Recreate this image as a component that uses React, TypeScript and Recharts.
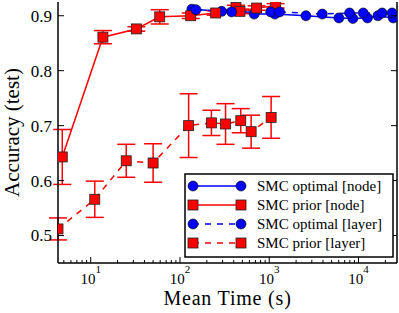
import React from 'react';
import { ComposedChart, Line, XAxis, YAxis, ErrorBar, Label } from 'recharts';

// SMC optimal [node] (solid blue)
const optNodeTime = [136, 293, 679, 1158, 2576, 6030, 8650, 12600, 16500, 24500];
const optNodeAcc = [0.912, 0.908, 0.903, 0.903, 0.900, 0.896, 0.895, 0.896, 0.900, 0.896];

// SMC prior [node] (solid red)
const priorNodeTime = [4.8, 13.7, 32.5, 59.3, 132, 251, 424, 470, 722, 1180];
const priorNodeAcc = [0.643, 0.861, 0.876, 0.898, 0.900, 0.905, 0.915, 0.908, 0.914, 0.918];
const priorNodeErr = [0.05, 0.012, 0.004, 0.013, 0.005, 0.004, 0.004, 0.004, 0.004, 0.004];

// SMC optimal [layer] (dashed blue)
const optLayerTime = [151, 379, 1038, 1306, 3925, 7940, 11300, 18400, 23800];
const optLayerAcc = [0.911, 0.907, 0.907, 0.907, 0.903, 0.905, 0.905, 0.905, 0.905];

// SMC prior [layer] (dashed red)
const priorLayerTime = [4.3, 11.1, 25, 50, 125, 225, 324, 480, 627, 1050];
const priorLayerAcc = [0.512, 0.566, 0.636, 0.632, 0.700, 0.705, 0.703, 0.709, 0.689, 0.715];
const priorLayerErr = [0.02, 0.033, 0.03, 0.035, 0.058, 0.023, 0.037, 0.022, 0.03, 0.038];

const xTicks = [5, 6, 7, 8, 9, 10, 20, 30, 40, 50, 60, 70, 80, 90, 100, 200, 300, 400, 500, 600, 700, 800, 900, 1000, 2000, 3000, 4000, 5000, 6000, 7000, 8000, 9000, 10000, 20000];
const yTicks = [0.5, 0.6, 0.7, 0.8, 0.9];

const legendLabels = ['SMC optimal [node]', 'SMC prior [node]', 'SMC optimal [layer]', 'SMC prior [layer]'];

const build = (t: number[], a: number[], e?: number[]) =>
  t.map((v, i) => ({ t: v, acc: a[i], err: e ? e[i] : 0 }));

const optNode = build(optNodeTime, optNodeAcc);
const priorNode = build(priorNodeTime, priorNodeAcc, priorNodeErr);
const optLayer = build(optLayerTime, optLayerAcc);
const priorLayer = build(priorLayerTime, priorLayerAcc, priorLayerErr);

const FONT = '"Liberation Serif", "Times New Roman", serif';
const BLUE = '#0000ff';
const RED = '#ff0000';

const isMajor = (v: number) => {
  const l = Math.log10(v);
  return Math.abs(l - Math.round(l)) < 1e-9;
};

const XTickBottom = (props: any) => {
  const { x, y, payload } = props;
  const v = payload.value;
  const major = isMajor(v);
  return (
    <g>
      <line x1={x} x2={x} y1={y} y2={y - (major ? 6 : 3)} stroke="#000" strokeWidth={1} />
      {major && (
        <text x={x} y={y + 20.5} textAnchor="middle" fontFamily={FONT} fontSize={15} fill="#000">
          10
          <tspan dy={-10.5} fontSize={11}>{Math.round(Math.log10(v))}</tspan>
        </text>
      )}
    </g>
  );
};

const XTickTop = (props: any) => {
  const { x, y, payload } = props;
  const major = isMajor(payload.value);
  return <line x1={x} x2={x} y1={y} y2={y + (major ? 6 : 3)} stroke="#000" strokeWidth={1} />;
};

const YTickLeft = (props: any) => {
  const { x, y, payload } = props;
  return (
    <g>
      <line x1={x} x2={x + 6} y1={y} y2={y} stroke="#000" strokeWidth={1} />
      <text x={x - 6} y={y} dy="0.35em" textAnchor="end" fontFamily={FONT} fontSize={17} fill="#000">
        {payload.value.toFixed(1)}
      </text>
    </g>
  );
};

const YTickRight = (props: any) => {
  const { x, y } = props;
  return <line x1={x} x2={x - 6} y1={y} y2={y} stroke="#000" strokeWidth={1} />;
};

const CircleDot = (props: any) => {
  const { cx, cy, index } = props;
  if (cx == null || cy == null) return <g key={index} />;
  return <circle key={index} cx={cx} cy={cy} r={5} fill={BLUE} stroke="#000" strokeWidth={0.6} />;
};

const SquareDot = (props: any) => {
  const { cx, cy, index } = props;
  if (cx == null || cy == null) return <g key={index} />;
  return <rect key={index} x={cx - 5} y={cy - 5} width={10} height={10} fill={RED} stroke="#222" strokeWidth={0.8} />;
};

const LegendBox = () => {
  const rows = [186, 205, 224, 243];
  const styles = [
    { color: BLUE, dash: undefined, sq: false },
    { color: RED, dash: undefined, sq: true },
    { color: BLUE, dash: '6 6', sq: false },
    { color: RED, dash: '6 6', sq: true },
  ];
  return (
    <svg width={399} height={313} style={{ position: 'absolute', left: 0, top: 0, pointerEvents: 'none' }}>
      <rect x={185} y={174} width={208} height={83} fill="#fff" stroke="#000" strokeWidth={1.5} />
      {rows.map((ry, i) => {
        const s = styles[i];
        return (
          <g key={i}>
            <line x1={193} x2={241} y1={ry} y2={ry} stroke={s.color} strokeWidth={1.5} strokeDasharray={s.dash} />
            {[193, 241].map((mx) =>
              s.sq ? (
                <rect key={mx} x={mx - 5} y={ry - 5} width={10} height={10} fill={RED} stroke="#222" strokeWidth={0.8} />
              ) : (
                <circle key={mx} cx={mx} cy={ry} r={5} fill={BLUE} stroke="#000" strokeWidth={0.6} />
              )
            )}
            <text x={257} y={ry} dy="0.35em" fontFamily={FONT} fontSize={15} fill="#000">
              {legendLabels[i]}
            </text>
          </g>
        );
      })}
    </svg>
  );
};

export default function App() {
  return (
    <div style={{ position: 'absolute', left: 0, top: 0, width: 399, height: 313, background: '#fff' }}>
      <ComposedChart width={399} height={313} margin={{ top: 2, right: 0, bottom: 0, left: 0 }}>
        <XAxis
          dataKey="t"
          type="number"
          scale="log"
          domain={[4.3, 27000]}
          allowDataOverflow
          ticks={xTicks}
          interval={0}
          tickLine={false}
          tickSize={0}
          tickMargin={0}
          tick={<XTickBottom />}
          axisLine={{ stroke: '#000', strokeWidth: 1.5 }}
          height={50}
        >
          <Label
            value="Mean Time (s)"
            position="insideBottom"
            offset={8}
            style={{ fontFamily: FONT, fontSize: 20, letterSpacing: 0.8, fill: '#000' }}
          />
        </XAxis>
        <XAxis
          xAxisId="top"
          dataKey="t"
          type="number"
          scale="log"
          domain={[4.3, 27000]}
          allowDataOverflow
          orientation="top"
          ticks={xTicks}
          interval={0}
          tickLine={false}
          tickSize={0}
          tickMargin={0}
          tick={<XTickTop />}
          axisLine={{ stroke: '#000', strokeWidth: 1.5 }}
          height={0}
        />
        <YAxis
          type="number"
          domain={[0.45, 0.925]}
          allowDataOverflow
          ticks={yTicks}
          interval={0}
          tickLine={false}
          tickSize={0}
          tickMargin={0}
          tick={<YTickLeft />}
          axisLine={{ stroke: '#000', strokeWidth: 1.5 }}
          width={58}
        >
          <Label
            value="Accuracy (test)"
            angle={-90}
            position="insideLeft"
            offset={12}
            style={{ fontFamily: FONT, fontSize: 21, fill: '#000', textAnchor: 'middle' }}
          />
        </YAxis>
        <YAxis
          yAxisId="right"
          orientation="right"
          type="number"
          domain={[0.45, 0.925]}
          allowDataOverflow
          ticks={yTicks}
          interval={0}
          tickLine={false}
          tickSize={0}
          tickMargin={0}
          tick={<YTickRight />}
          axisLine={{ stroke: '#000', strokeWidth: 1.5 }}
          width={2}
        />
        <Line
          data={optNode}
          dataKey="acc"
          stroke={BLUE}
          strokeWidth={1.5}
          dot={<CircleDot />}
          activeDot={false}
          isAnimationActive={false}
        />
        <Line
          data={priorNode}
          dataKey="acc"
          stroke={RED}
          strokeWidth={1.5}
          dot={<SquareDot />}
          activeDot={false}
          isAnimationActive={false}
        >
          <ErrorBar dataKey="err" direction="y" width={9} stroke={RED} strokeWidth={1.5} />
        </Line>
        <Line
          data={optLayer}
          dataKey="acc"
          stroke={BLUE}
          strokeWidth={1.5}
          strokeDasharray="6 6"
          dot={<CircleDot />}
          activeDot={false}
          isAnimationActive={false}
        />
        <Line
          data={priorLayer}
          dataKey="acc"
          stroke={RED}
          strokeWidth={1.5}
          strokeDasharray="6 6"
          dot={<SquareDot />}
          activeDot={false}
          isAnimationActive={false}
        >
          <ErrorBar dataKey="err" direction="y" width={9} stroke={RED} strokeWidth={1.5} />
        </Line>
      </ComposedChart>
      <LegendBox />
    </div>
  );
}
